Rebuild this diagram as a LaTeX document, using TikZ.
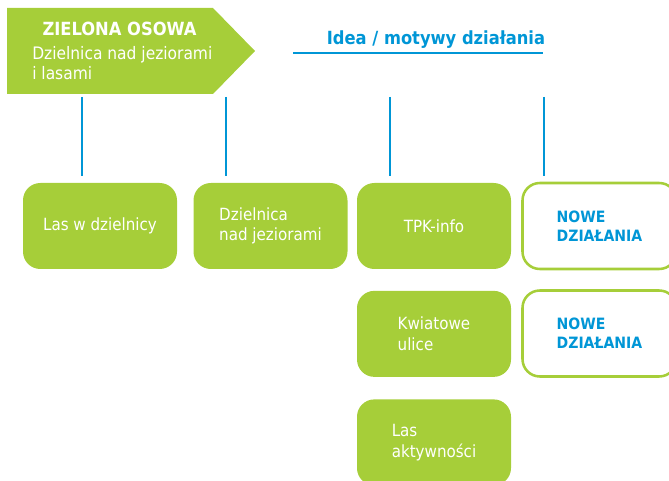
\documentclass[tikz,border=0pt]{standalone}
\usepackage{fontspec}
\setmainfont{DejaVu Sans Condensed}
\usetikzlibrary{positioning}
\definecolor{osgreen}{RGB}{166,206,57}
\definecolor{osblue}{RGB}{0,150,214}

\begin{document}
\begin{tikzpicture}[
    x=0.75pt, y=-0.75pt,
    task/.style={rectangle, fill=osgreen, text=white, minimum width=115.5pt, minimum height=64.5pt, align=left, font=\fontsize{12.6}{15.5}\selectfont, rounded corners=13pt, inner sep=0pt},
    newtask/.style={task, fill=white, draw=osgreen, line width=1.9pt, text=osblue, font=\bfseries\fontsize{11.7}{14.5}\selectfont},
    link/.style={osblue, line width=1.1pt}
]
\clip (0,0) rectangle (669,481);

% Header arrow
\fill[osgreen] (7,8) -- (213,8) -- (255,51) -- (213,94) -- (7,94) -- cycle;
\node[text=white, font=\bfseries\fontsize{13.6}{16}\selectfont] (head) at (119.5,28.5) {ZIELONA OSOWA};
\node[text=white, align=left, anchor=north west, inner sep=0pt, font=\fontsize{12.9}{15}\selectfont] (sub) at (32,46) {Dzielnica nad jeziorami\\i lasami};

% Idea
\node[text=osblue, font=\bfseries\fontsize{13.6}{16}\selectfont] (idea) at (436,39.5) {Idea / motywy działania};
\coordinate (ulA) at (293,53);
\coordinate (ulB) at (543,53);
\draw[link] (ulA) -- (ulB);

% Links
\foreach \x [count=\i] in {82,226,390,544} {
  \coordinate (top\i) at (\x,97);
  \coordinate (bot\i) at (\x,176);
  \draw[link] (top\i) -- (bot\i);
}

% Boxes
\node[task] (las) at (100,226) {Las w dzielnicy};
\node[task] (jez) at (270.5,226) {Dzielnica\\nad jeziorami};
\node[task] (tpk) at (434,226) {TPK-info};
\node[task, below=16pt of tpk] (kwiat) {Kwiatowe\\ulice};
\node[task, below=16.5pt of kwiat] (akt) {Las\\aktywności};

% New actions
\node[newtask] (new1) at (599.5,226) {NOWE\\DZIAŁANIA};
\node[newtask] (new2) at (599.5,333.5) {NOWE\\DZIAŁANIA};
\end{tikzpicture}
\end{document}
